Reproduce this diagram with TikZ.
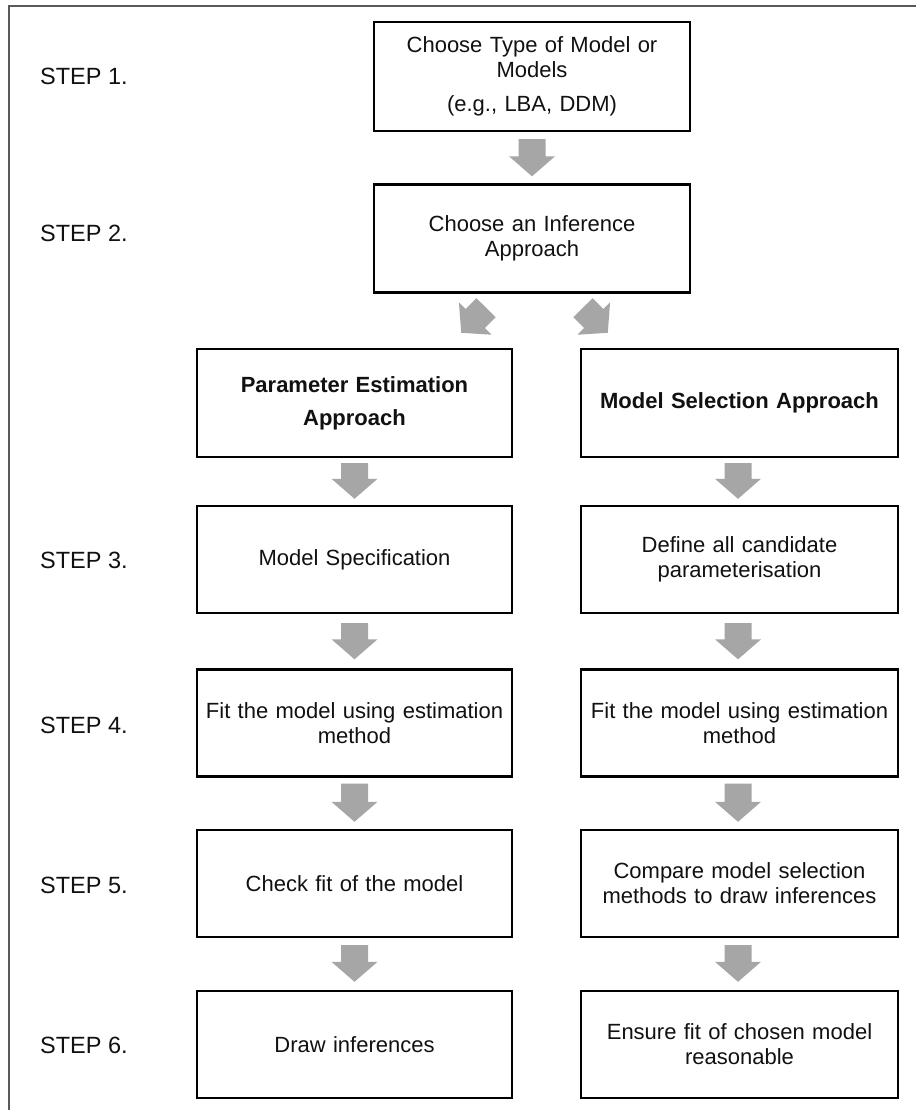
\documentclass[tikz,border=0pt]{standalone}
\usepackage{fontspec}
\setmainfont{Liberation Sans}
\usetikzlibrary{calc}
\definecolor{arrowgray}{RGB}{166,166,166}
\definecolor{framegray}{RGB}{90,90,90}
\definecolor{inkblack}{RGB}{17,17,17}
\begin{document}
\begin{tikzpicture}[x=1pt,y=-1pt,
  box/.style={draw=black, line width=2.4pt, minimum width=316pt, minimum height=107pt,
    inner sep=0pt, align=center, text width=310pt, text=inkblack,
    font=\fontsize{22}{25}\selectfont},
  boldbox/.style={box, font=\fontsize{22}{25}\selectfont\bfseries},
  steplabel/.style={anchor=west, inner sep=0pt, text=inkblack, font=\fontsize{23.5}{26}\selectfont},
  barrow/.style={fill=arrowgray, draw=none, to path={
    let \p1=(\tikztostart), \p2=(\tikztotarget),
        \n1={atan2(\y2-\y1,\x2-\x1)}, \n2={veclen(\x2-\x1,\y2-\y1)} in
    ([shift={(\p1)},rotate=\n1]0pt,13.5pt)
    -- ([shift={(\p1)},rotate=\n1]{\n2-20pt},13.5pt)
    -- ([shift={(\p1)},rotate=\n1]{\n2-20pt},23pt)
    -- ([shift={(\p1)},rotate=\n1]{\n2},0pt)
    -- ([shift={(\p1)},rotate=\n1]{\n2-20pt},-23pt)
    -- ([shift={(\p1)},rotate=\n1]{\n2-20pt},-13.5pt)
    -- ([shift={(\p1)},rotate=\n1]0pt,-13.5pt) -- cycle}},
  framestyle/.style={draw=framegray, line width=1.6pt}]
\useasboundingbox (0,0) rectangle (915,1110);
\fill[white] (0,0) rectangle (915,1110);
% outer frame (cut by image edges)
\coordinate (fbl) at (9,1112);
\coordinate (ftl) at (9,6);
\coordinate (ftr) at (917,6);
\draw[framestyle] (fbl) -- (ftl) -- (ftr);

% step labels
\node[steplabel] (s1) at (40,76) {STEP 1.};
\node[steplabel] (s2) at (40,233) {STEP 2.};
\node[steplabel] (s3) at (40,560) {STEP 3.};
\node[steplabel] (s4) at (40,725) {STEP 4.};
\node[steplabel] (s5) at (40,885) {STEP 5.};
\node[steplabel] (s6) at (40,1045) {STEP 6.};

% boxes
\node[box, minimum height=109pt] (b1) at (532,76.5) {Choose Type of Model or\\Models\\[9pt](e.g., LBA, DDM)};
\node[box, minimum height=108pt] (b2) at (532,238.5) {Choose an Inference\\Approach};
\node[boldbox, minimum width=315pt, minimum height=108pt] (pe) at (354.5,403) {Parameter Estimation\\[8pt]Approach};
\node[boldbox, minimum width=317pt, minimum height=108pt] (ms) at (739.5,403) {Model Selection Approach};

\node[box, minimum width=315pt] (l3) at (354.5,559.5) {Model Specification};
\node[box, minimum width=317pt] (r3) at (739.5,559.5) {Define all candidate\\parameterisation};
\node[box, minimum width=315pt] (l4) at (354.5,723) {Fit the model using estimation\\method};
\node[box, minimum width=317pt] (r4) at (739.5,723) {Fit the model using estimation\\method};
\node[box, minimum width=315pt] (l5) at (354.5,883.5) {Check fit of the model};
\node[box, minimum width=317pt] (r5) at (739.5,883.5) {Compare model selection\\methods to draw inferences};
\node[box, minimum width=315pt] (l6) at (354.5,1044.5) {Draw inferences};
\node[box, minimum width=317pt] (r6) at (739.5,1044.5) {Ensure fit of chosen model\\reasonable};

% block arrows
\path[barrow] ($(b1.south)+(0,7)$) to ($(b2.north)+(0,-7)$);
\path[barrow] ($(b2.south)+(-46,14)$) to ($(pe.north east)+(-52,-15)$);
\path[barrow] ($(b2.south)+(51,14)$) to ($(ms.north west)+(28,-15)$);

\path[barrow] ($(pe.south)+(0,5)$) to ($(l3.north)+(0,-6)$);
\path[barrow] ($(ms.south)+(-1.5,5)$) to ($(r3.north)+(-1.5,-6)$);
\path[barrow] ($(l3.south)+(0,9)$) to ($(l4.north)+(0,-9)$);
\path[barrow] ($(r3.south)+(-1.5,9)$) to ($(r4.north)+(-1.5,-9)$);
\path[barrow] ($(l4.south)+(0,6)$) to ($(l5.north)+(0,-7)$);
\path[barrow] ($(r4.south)+(-1.5,6)$) to ($(r5.north)+(-1.5,-7)$);
\path[barrow] ($(l5.south)+(0,7)$) to ($(l6.north)+(0,-8)$);
\path[barrow] ($(r5.south)+(-1.5,7)$) to ($(r6.north)+(-1.5,-8)$);
\end{tikzpicture}
\end{document}
